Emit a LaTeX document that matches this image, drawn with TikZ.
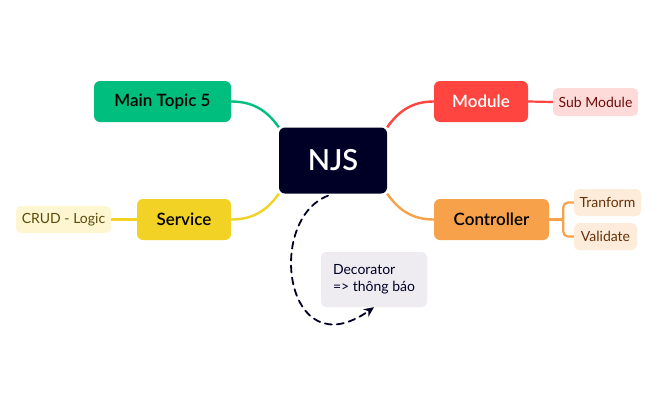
\documentclass[tikz,border=0pt]{standalone}
\usepackage{fontspec}
\setmainfont{Lato}
\newfontfamily\latosemi{Lato Semibold}
\usepackage{xcolor}
\usetikzlibrary{positioning,calc,backgrounds,arrows.meta}

\definecolor{njsnavy}{RGB}{0,0,38}
\definecolor{topicgreen}{RGB}{0,190,126}
\definecolor{svcyellow}{RGB}{242,210,36}
\definecolor{crudfill}{RGB}{254,246,209}
\definecolor{crudtext}{RGB}{90,75,10}
\definecolor{modred}{RGB}{255,69,64}
\definecolor{subfill}{RGB}{254,218,216}
\definecolor{subtext}{RGB}{110,12,12}
\definecolor{ctrlorange}{RGB}{247,162,74}
\definecolor{ctrlfill}{RGB}{254,236,218}
\definecolor{ctrltext}{RGB}{100,50,10}
\definecolor{decofill}{RGB}{238,236,241}

\begin{document}
\begin{tikzpicture}[x=1pt,y=-1pt, line cap=round, line join=round]
				% ===== khung =====
				\useasboundingbox (0,0) rectangle (658,407);
				
				% ===== style =====
				\tikzset{
					topic/.style={rounded corners=6pt, minimum height=41pt, inner sep=0pt, font=\latosemi\fontsize{17}{20}\selectfont},
					subtopic/.style={rounded corners=5pt, minimum height=27pt, inner sep=0pt, font=\fontsize{14}{17}\selectfont},
					nhanh/.style={line width=2.4pt},
					nhanhnho/.style={line width=2.2pt}
				}
				
				% ===== chủ đề trung tâm =====
				\node[topic, fill=njsnavy, text=white, minimum width=108pt, minimum height=66pt, font=\latosemi\fontsize{29}{34}\selectfont] (njs) at (333,160.5) {NJS};
				
				% ===== các nhánh chính =====
				\node[topic, fill=topicgreen, minimum width=137pt] (topic5) at (162.5,101.5) {Main Topic 5};
				\node[topic, fill=svcyellow, minimum width=94pt] (service) at (184,219.5) {Service};
				\node[topic, fill=modred, text=white, minimum width=94pt] (module) at (481,101.5) {Module};
				\node[topic, fill=ctrlorange, minimum width=115pt] (controller) at (491.5,219.5) {Controller};
				
				% ===== các nhánh phụ =====
				\node[subtopic, fill=crudfill, text=crudtext, minimum width=95pt] (crud) at (63.5,219.5) {CRUD - Logic};
				\node[subtopic, fill=subfill, text=subtext, minimum width=85pt, minimum height=28pt] (submodule) at (595.5,102) {Sub Module};
				\node[subtopic, fill=ctrlfill, text=ctrltext, minimum width=67pt] (tranform) at (607.5,202.5) {Tranform};
				\node[subtopic, fill=ctrlfill, text=ctrltext, minimum width=63pt] (validate) at (605.5,236.5) {Validate};
				
				% ===== ghi chú =====
				\node[rounded corners=5pt, fill=decofill, text=njsnavy, align=left, inner xsep=11pt, inner ysep=0pt, minimum width=106pt, minimum height=55pt, font=\fontsize{14}{17}\selectfont] (deco) at (374,279.5) {Decorator\\=> thông báo};
				
				% ===== đường nối =====
				\begin{scope}[on background layer]
					\fill[white] (0,0) rectangle (658,407);
					\draw[nhanh, topicgreen] (topic5.east) to[out=0,in=125] (njs.north west);
					\draw[nhanh, svcyellow] (service.east) to[out=0,in=235] (njs.south west);
					\draw[nhanh, modred] (module.west) to[out=180,in=55] (njs.north east);
					\draw[nhanh, ctrlorange] (controller.west) to[out=180,in=305] (njs.south east);
					
					\draw[nhanhnho, svcyellow] (service.west) -- (crud.east);
					\draw[nhanhnho, modred] (module.east) -- (submodule.west);
					
					\coordinate (ctrlFork) at ($(controller.east)+(14,0)$);
					\draw[nhanhnho, ctrlorange] (controller.east) -- (ctrlFork);
					\draw[nhanhnho, ctrlorange, rounded corners=5pt] (ctrlFork) |- (tranform.west);
					\draw[nhanhnho, ctrlorange, rounded corners=5pt] (ctrlFork) |- (validate.west);
				\end{scope}
				
				% ===== mũi tên đứt nét =====
				\draw[njsnavy, line width=1.8pt, dash pattern=on 7pt off 5pt, -{Stealth[length=10pt,width=9pt]}]
				($(njs.south)+(-5,2)$) .. controls (265,220) and (285,370) .. (deco.south);
			\end{tikzpicture}
\end{document}
